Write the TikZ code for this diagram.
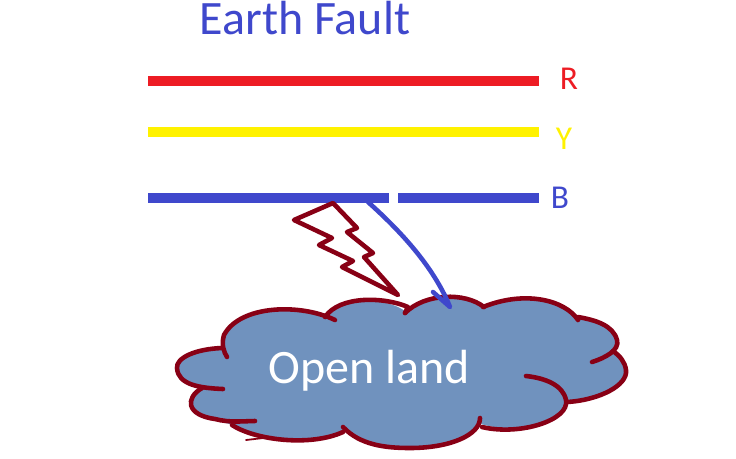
\documentclass[tikz,border=0pt]{standalone}
\usepackage{fontspec}
\setmainfont{Carlito}
\definecolor{busred}{HTML}{ED1C24}
\definecolor{busyellow}{HTML}{FFF200}
\definecolor{busblue}{HTML}{3F48CC}
\definecolor{landedge}{HTML}{880015}
\definecolor{landfill}{HTML}{7092BE}
\tikzset{
	bus/.style={line width=5.6pt},
	edge/.style={color=landedge,line width=2.6pt,line cap=round,line join=round},
	label/.style={font=\fontsize{19}{21}\selectfont},
	big/.style={font=\fontsize{27.3}{30}\selectfont}
}
\begin{document}
\begin{tikzpicture}[x=.02cm,y=-.02cm]
	\useasboundingbox (0,0) rectangle (736,458);
	% land
	\fill[landfill] (325,317) .. controls (300,305) and (240,305) .. (224,335) -- (222,348)
		.. controls (195,349) and (176,358) .. (177,368) .. controls (178,378) and (190,385) .. (202,388)
		.. controls (185,398) and (186,415) .. (215,419) -- (232,425)
		.. controls (255,440) and (310,447) .. (343,430)
		.. controls (360,445) and (385,448) .. (410,448) .. controls (450,448) and (475,437) .. (481,424)
		.. controls (520,436) and (570,420) .. (566,402)
		.. controls (600,400) and (628,385) .. (626,370) .. controls (625,362) and (620,356) .. (613,351)
		.. controls (620,345) and (618,325) .. (578,318)
		.. controls (565,300) and (525,290) .. (483,307)
		.. controls (465,292) and (425,293) .. (405,311)
		.. controls (385,297) and (340,295) .. (325,317) -- cycle;
	% outline
	\draw[edge] (335,320) .. controls (300,303) and (240,305) .. (224,335) .. controls (221,345) and (224,352) .. (227,357);
	\draw[edge] (222,348) .. controls (195,349) and (176,358) .. (177,368) .. controls (178,385) and (200,388) .. (223,389);
	\draw[edge] (202,388) .. controls (185,398) and (186,415) .. (215,419) .. controls (230,423) and (245,421) .. (255,421);
	\draw[edge] (232,425) .. controls (255,440) and (310,447) .. (343,432);
	\draw[edge] (343,427) .. controls (360,445) and (385,448) .. (410,448) .. controls (450,448) and (480,435) .. (480,418);
	\draw[edge] (482,427) .. controls (520,436) and (570,420) .. (566,400) .. controls (563,385) and (545,378) .. (526,376);
	\draw[edge] (567,402) .. controls (600,400) and (628,385) .. (626,370) .. controls (625,362) and (620,356) .. (613,351);
	\draw[edge] (592,362) .. controls (605,358) and (620,350) .. (617,340) .. controls (613,325) and (595,320) .. (578,317);
	\draw[edge] (578,320) .. controls (565,300) and (525,290) .. (483,307);
	\draw[edge] (484,307) .. controls (465,292) and (425,293) .. (405,313);
	\draw[edge] (405,313) -- (408,307) .. controls (385,297) and (340,295) .. (325,317);
	\draw[edge,line width=1pt] (246,440) -- (272,437);
	\node[big,text=white] (land) at (369,371) {Open land};
	% phases
	\draw[bus,busred] (148,81) -- (539,81);
	\draw[bus,busyellow] (148,132) -- (539,132);
	\draw[bus,busblue] (148,198) -- (389,198);
	\draw[bus,busblue] (398,198) -- (539,198);
	\node[label,text=busred] (r) at (569,79) {R};
	\node[label,text=busyellow] (y) at (564,139) {Y};
	\node[label,text=busblue] (b) at (560,198) {B};
	\node[big,text=busblue] (title) at (305,18) {Earth Fault};
	% fault path
	\draw[edge] (398,295) -- (342,267) -- (353,261) -- (319,245) -- (332,238) -- (294,220) -- (333,203) -- (357,228) -- (347,232) -- (373,253) -- (364,257) -- cycle;
	\draw[busblue,line width=2.6pt,line cap=round,line join=round] (368,202) .. controls (405,235) and (435,270) .. (450,307) -- (433,292);
\end{tikzpicture}
\end{document}
